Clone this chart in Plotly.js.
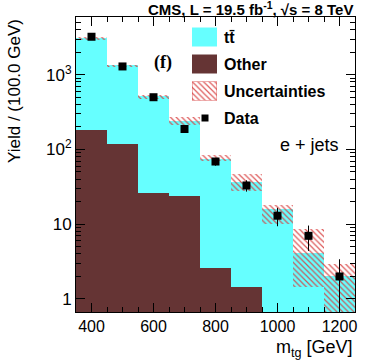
<!DOCTYPE html>
<html>
<head>
<meta charset="utf-8">
<script src="https://cdn.plot.ly/plotly-3.0.1.min.js"></script>
<style>
  html, body { margin: 0; padding: 0; background: #fff; }
  #chart { width: 374px; height: 360px; }
</style>
</head>
<body>
<div id="chart"></div>
<script>
// bin centres (GeV), 100 GeV wide bins
const binCenters = [400, 500, 600, 700, 800, 900, 1000, 1100, 1200];
// stacked MC yields
const ttbarYield = [2907, 1212, 486, 219, 72, 35, 16, 4.1, 2.0];
const otherYield = [183, 119, 26, 24, 2.6, 1.45, 0, 0, 0];
// uncertainty band edges
const uncLow = [2940, 1268, 477, 214, 71, 28, 10, 1.45, 0.4];
const uncHigh = [3190, 1360, 535, 274, 85, 47, 17.9, 8.7, 2.9];
// data
const dataYield = [3220, 1290, 500, 188, 69, 33, 13, 7, 2];
const dataErr = [57, 36, 22, 14, 8.3, 5.7, 3.6, 2.6, 1.4];

const yTickVals = [1, 10, 100, 1000];
const yTickText = ['1', '10', '10<sup>2</sup>', '10<sup>3</sup>'];
const yMinorVals = [2, 3, 4, 5, 6, 7, 8, 9, 20, 30, 40, 50, 60, 70, 80, 90,
  200, 300, 400, 500, 600, 700, 800, 900, 2000, 3000, 4000, 5000];

const cyan = '#66ffff';
const brown = '#653434';
const hatch = 'rgba(215,60,60,0.85)';
const hatchPattern = {shape: '\\', fgcolor: hatch, bgcolor: 'rgba(0,0,0,0)', size: 4, solidity: 0.3};

let stackTotal = [];
for (let i = 0; i < binCenters.length; i++) {
  stackTotal.push(ttbarYield[i] + otherYield[i]);
}
let uncHeight = [];
for (let i = 0; i < binCenters.length; i++) {
  uncHeight.push(uncHigh[i] - uncLow[i]);
}

let traceTtbar = {
  type: 'bar',
  x: binCenters,
  y: stackTotal,
  width: 100,
  marker: {color: cyan, line: {width: 0}},
  name: 'tt'
};

let traceOther = {
  type: 'bar',
  x: binCenters,
  y: otherYield,
  width: 100,
  marker: {color: brown, line: {width: 0}},
  name: 'Other'
};

let traceUnc = {
  type: 'bar',
  x: binCenters,
  y: uncHeight,
  base: uncLow,
  width: 100,
  marker: {color: 'rgba(0,0,0,0)', line: {width: 0}, pattern: hatchPattern},
  name: 'Uncertainties'
};

let traceData = {
  type: 'scatter',
  mode: 'markers',
  x: binCenters,
  y: dataYield,
  marker: {symbol: 'square', size: 8, color: 'black'},
  error_y: {type: 'data', array: dataErr, visible: true, color: 'black', thickness: 1, width: 0},
  name: 'Data'
};

// legend swatch for the hatched band, drawn as a one-bar plot in its own little axes
let traceUncSwatch = {
  type: 'bar',
  x: [0],
  y: [1],
  width: 1,
  xaxis: 'x2',
  yaxis: 'y2',
  marker: {color: 'rgba(0,0,0,0)', line: {width: 1, color: 'rgba(215,60,60,0.8)'}, pattern: hatchPattern},
  hoverinfo: 'skip'
};

// paper coords helpers for the hand-drawn legend (plot box is 279 x 295 px)
function px(x) { return (x - 76) / 279; }
function py(y) { return (312 - y) / 295; }

let shapes = [
  {type: 'rect', xref: 'paper', yref: 'paper', x0: px(192), x1: px(217), y0: py(46.5), y1: py(27.5),
    fillcolor: cyan, line: {width: 0}},
  {type: 'rect', xref: 'paper', yref: 'paper', x0: px(192), x1: px(217), y0: py(73.5), y1: py(54.5),
    fillcolor: brown, line: {width: 0}},
  {type: 'rect', xref: 'paper', yref: 'paper', x0: px(205 - 3.5), x1: px(205 + 3.5), y0: py(118 + 3.5), y1: py(118 - 3.5),
    fillcolor: 'black', line: {width: 0}}
];

let annFont = {family: 'Liberation Sans, Arial, sans-serif', color: 'black'};
let annotations = [
  {text: '<b>CMS, L = 19.5 fb<sup>-1</sup>, √s = 8 TeV</b>', xref: 'paper', yref: 'paper',
    x: 1, y: py(9), xanchor: 'right', yanchor: 'middle', showarrow: false, font: {...annFont, size: 15}},
  {text: '<b>tt̄</b>', xref: 'paper', yref: 'paper', x: px(222), y: py(37), xanchor: 'left', yanchor: 'middle',
    showarrow: false, font: {...annFont, size: 16}},
  {text: '<b>Other</b>', xref: 'paper', yref: 'paper', x: px(222), y: py(64), xanchor: 'left', yanchor: 'middle',
    showarrow: false, font: {...annFont, size: 16}},
  {text: '<b>Uncertainties</b>', xref: 'paper', yref: 'paper', x: px(222), y: py(91), xanchor: 'left', yanchor: 'middle',
    showarrow: false, font: {...annFont, size: 16}},
  {text: '<b>Data</b>', xref: 'paper', yref: 'paper', x: px(222), y: py(118), xanchor: 'left', yanchor: 'middle',
    showarrow: false, font: {...annFont, size: 16}},
  {text: '<b>(f)</b>', xref: 'paper', yref: 'paper', x: px(163), y: py(62), xanchor: 'center', yanchor: 'middle',
    showarrow: false, font: {family: 'Liberation Serif, Times New Roman, serif', size: 18, color: 'black'}},
  {text: 'e + jets', xref: 'paper', yref: 'paper', x: px(341), y: py(145), xanchor: 'right', yanchor: 'middle',
    showarrow: false, font: {...annFont, size: 18}},
  {text: 'm<sub>tg</sub> [GeV]', xref: 'paper', yref: 'paper', x: 1, y: py(348), xanchor: 'right', yanchor: 'middle',
    showarrow: false, font: {...annFont, size: 18}},
  {text: 'Yield / (100.0 GeV)', xref: 'paper', yref: 'paper', x: px(14), y: 1, xanchor: 'center', yanchor: 'top',
    textangle: -90, showarrow: false, font: {...annFont, size: 17}}
];

let layout = {
  width: 374,
  height: 360,
  margin: {l: 76, r: 19, t: 17, b: 48, pad: 0},
  paper_bgcolor: 'white',
  plot_bgcolor: 'white',
  showlegend: false,
  barmode: 'overlay',
  bargap: 0,
  font: {family: 'Liberation Sans, Arial, sans-serif', color: 'black'},
  xaxis: {
    range: [350, 1250],
    tickvals: [400, 600, 800, 1000, 1200],
    ticks: 'inside',
    ticklen: 9,
    tickwidth: 1,
    tickcolor: 'black',
    minor: {dtick: 50, tick0: 0, ticks: 'inside', ticklen: 5, tickcolor: 'black', showgrid: false},
    showline: true,
    linecolor: 'black',
    linewidth: 1,
    mirror: 'allticks',
    showgrid: false,
    zeroline: false,
    tickfont: {size: 16}
  },
  yaxis: {
    type: 'log',
    range: [-0.174, 3.772],
    tickvals: yTickVals,
    ticktext: yTickText,
    ticks: 'inside',
    ticklen: 9,
    tickwidth: 1,
    tickcolor: 'black',
    minor: {tickvals: yMinorVals, ticks: 'inside', ticklen: 5, tickcolor: 'black', showgrid: false},
    showline: true,
    linecolor: 'black',
    linewidth: 1,
    mirror: 'allticks',
    showgrid: false,
    zeroline: false,
    tickfont: {size: 17}
  },
  xaxis2: {domain: [px(192), px(217)], range: [-0.5, 0.5], anchor: 'y2', visible: false, fixedrange: true},
  yaxis2: {domain: [py(100.5), py(81.5)], range: [0, 1], anchor: 'x2', visible: false, fixedrange: true},
  shapes: shapes,
  annotations: annotations
};

Plotly.newPlot('chart', [traceTtbar, traceOther, traceUnc, traceData, traceUncSwatch], layout,
  {staticPlot: true, displayModeBar: false});
</script>
</body>
</html>
